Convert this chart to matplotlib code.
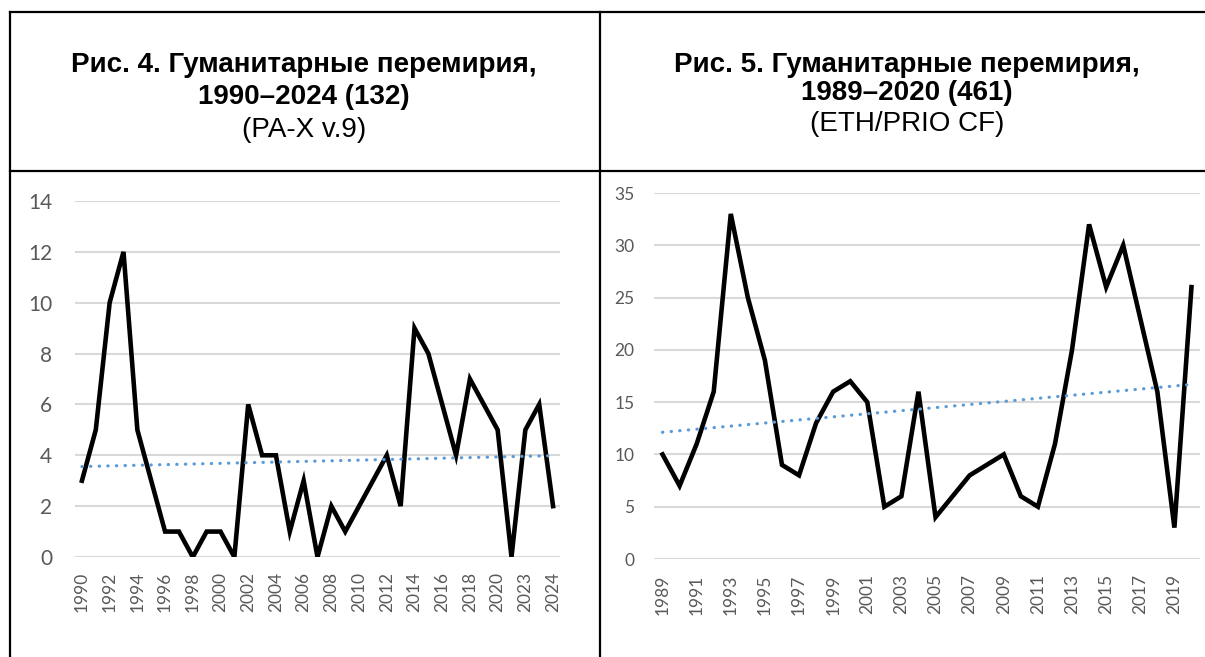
import numpy as np
import matplotlib.pyplot as plt
from matplotlib.lines import Line2D

# Рис. 4 - PA-X v.9, 1990-2024
left_values = [3, 5, 10, 12, 5, 3, 1, 1, 0, 1, 1, 0, 6, 4, 4, 1, 3, 0, 2, 1,
               2, 3, 4, 2, 9, 8, 6, 4, 7, 6, 5, 0, 5, 6, 2]
left_ticklabels = ['1990', '1992', '1994', '1996', '1998', '2000', '2002', '2004', '2006',
                   '2008', '2010', '2012', '2014', '2016', '2018', '2020', '2023', '2024']
left_yticks = [0, 2, 4, 6, 8, 10, 12, 14]

# Рис. 5 - ETH/PRIO CF, 1989-2020
right_values = [10, 7, 11, 16, 33, 25, 19, 9, 8, 13, 16, 17, 15, 5, 6, 16, 4, 6, 8, 9,
                10, 6, 5, 11, 20, 32, 26, 30, 23, 16, 3, 26]
right_ticklabels = ['1989', '1991', '1993', '1995', '1997', '1999', '2001', '2003',
                    '2005', '2007', '2009', '2011', '2013', '2015', '2017', '2019']
right_yticks = [0, 5, 10, 15, 20, 25, 30, 35]

left_title = ['Рис. 4. Гуманитарные перемирия,', '1990–2024 (132)', '(PA-X v.9)']
right_title = ['Рис. 5. Гуманитарные перемирия,', '1989–2020 (461)', '(ETH/PRIO CF)']

W, H = 1205, 657
fig = plt.figure(figsize=(W / 100, H / 100), dpi=100)


def fx(px):
    return px / W


def fy(py):
    return 1 - py / H


# табличные рамки
border = dict(color='black', linewidth=1.6, transform=fig.transFigure)
fig.add_artist(Line2D([fx(10), 1], [fy(12), fy(12)], **border))
fig.add_artist(Line2D([fx(10), 1], [fy(171), fy(171)], **border))
fig.add_artist(Line2D([fx(10), fx(10)], [fy(12), 0], **border))
fig.add_artist(Line2D([fx(600), fx(600)], [fy(12), 0], **border))

# заголовки
title_font = ['Liberation Sans', 'DejaVu Sans']
for cx, lines, ys in [(304, left_title, (72, 104, 137)), (907, right_title, (72, 100, 131))]:
    fig.text(fx(cx), fy(ys[0]), lines[0], ha='center', va='baseline', fontsize=20,
             fontweight='bold', family=title_font, color='black')
    fig.text(fx(cx), fy(ys[1]), lines[1], ha='center', va='baseline', fontsize=20,
             fontweight='bold', family=title_font, color='black')
    fig.text(fx(cx), fy(ys[2]), lines[2], ha='center', va='baseline', fontsize=20,
             family=title_font, color='black')


def draw(ax, values, ticklabels, yticks, ysize, ypad, xpad):
    x = np.arange(len(values))
    ax.plot(x, values, color='black', linewidth=3.3, solid_joinstyle='miter', zorder=3)
    k, b = np.polyfit(x, values, 1)
    ax.plot(x, k * x + b, color='#5B9BD5', linewidth=2.3, linestyle=(0, (0.1, 2.6)),
            dash_capstyle='round', zorder=4)
    ax.set_xlim(-0.5, len(values) - 0.5)
    ax.set_ylim(yticks[0], yticks[-1])
    ax.set_yticks(yticks)
    ax.set_xticks(x[::2])
    ax.set_xticklabels(ticklabels, rotation=90)
    ax.grid(axis='y', color='#D9D9D9', linewidth=1.5)
    ax.set_axisbelow(True)
    for s in ax.spines.values():
        s.set_visible(False)
    ax.tick_params(axis='both', length=0, colors='#595959')
    ax.tick_params(axis='y', labelsize=ysize, pad=ypad)
    ax.tick_params(axis='x', labelsize=12.5, pad=xpad)
    for lab in ax.get_xticklabels() + ax.get_yticklabels():
        lab.set_family('Lato')


ax1 = fig.add_axes([fx(75), fy(557), fx(560) - fx(75), fy(201) - fy(557)])
draw(ax1, left_values, left_ticklabels, left_yticks, 15, 16.5, 10.5)

ax2 = fig.add_axes([fx(654), fy(559), fx(1200) - fx(654), fy(193) - fy(559)])
draw(ax2, right_values, right_ticklabels, right_yticks, 12.5, 14, 11)

fig.savefig('out.png', dpi=100)
